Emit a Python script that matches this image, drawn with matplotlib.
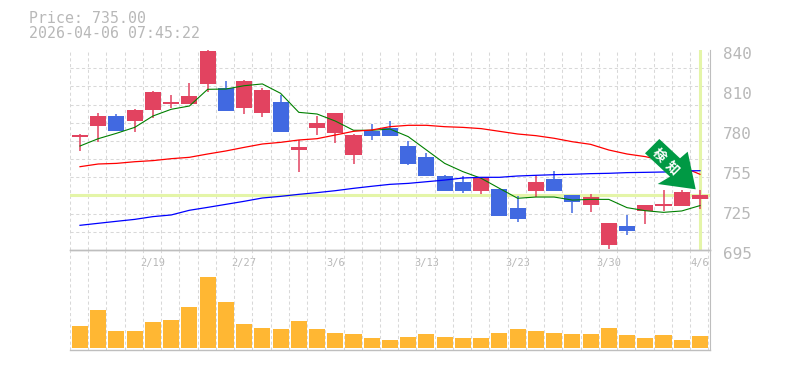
import numpy as np
import matplotlib
matplotlib.use('Agg')
import matplotlib.pyplot as plt
from matplotlib.patches import Polygon, Rectangle
from matplotlib.transforms import ScaledTranslation

# daily prices
open_ = [776.9, 784.9, 792.15, 788.5, 796.5, 800.85, 800.85, 815.4, 812.45, 797.95,
         794.3, 802.3, 767.5, 783.45, 779.8, 763.9, 781.3, 783.45, 770.4, 762.4,
         748.65, 744.3, 737.8, 739.2, 725.45, 737.8, 746.45, 735.0, 727.6, 698.6,
         712.4, 723.25, 726.9, 726.9, 732.0]
close = [778.35, 792.15, 781.3, 796.5, 809.55, 802.3, 806.65, 839.3, 795.8, 817.5,
         811.0, 780.55, 769.7, 787.1, 794.3, 778.35, 777.65, 777.65, 757.35, 748.65,
         737.8, 737.8, 747.9, 719.65, 717.45, 744.3, 737.8, 729.8, 733.4, 714.6,
         708.8, 727.6, 728.35, 737.05, 735.0]
high = [779.1, 794.3, 793.6, 797.2, 810.3, 807.4, 816.1, 840.0, 817.5, 818.25,
        812.45, 807.4, 774.75, 792.15, 794.3, 779.1, 786.35, 788.5, 774.0, 765.35,
        749.4, 748.65, 747.9, 739.2, 734.15, 749.4, 752.3, 735.0, 735.6, 714.6,
        720.4, 727.6, 738.5, 738.5, 738.5]
low = [766.8, 773.3, 781.3, 780.55, 790.7, 797.95, 800.85, 809.55, 795.8, 793.6,
       791.4, 780.55, 751.55, 778.35, 772.6, 757.35, 774.75, 777.65, 756.6, 748.65,
       737.8, 736.3, 735.6, 719.65, 715.3, 733.4, 737.8, 721.8, 722.55, 695.7,
       705.9, 713.85, 723.25, 726.9, 724.7]

ma_short = [770.4, 775.7, 779.6, 783.9, 792.15, 797.0, 799.4, 811.5, 811.7, 814.1,
            815.4, 808.6, 794.8, 793.6, 788.5, 781.8, 781.8, 782.7, 777.2, 767.5,
            757.8, 751.8, 747.0, 739.7, 732.5, 733.4, 733.4, 731.2, 731.7, 731.7,
            725.7, 723.5, 722.3, 723.3, 727.2]
ma_mid = [755.4, 757.35, 757.8, 759.0, 759.8, 761.2, 762.2, 764.6, 766.8, 769.4,
          771.85, 773.05, 774.75, 775.7, 778.35, 781.05, 782.0, 784.4, 785.4, 785.4,
          784.4, 783.9, 783.0, 781.05, 779.1, 777.9, 776.0, 773.5, 771.6, 767.5,
          764.6, 762.7, 759.8, 755.4, 749.9]
ma_long = [712.9, 714.35, 715.8, 717.2, 719.2, 720.4, 723.8, 725.9, 728.1, 730.3,
           732.7, 733.9, 735.35, 736.6, 738.0, 739.7, 741.2, 742.6, 743.3, 744.5,
           745.7, 747.2, 747.7, 747.7, 748.65, 749.15, 749.6, 749.9, 750.35, 750.6,
           751.1, 751.3, 751.55, 752.3, 752.5]

volume = [22, 38, 17, 17, 26, 28, 41, 71, 46, 24,
          20, 19, 27, 19, 15, 14, 10, 8, 11, 14,
          11, 10, 10, 15, 19, 17, 15, 14, 14, 20,
          13, 10, 13, 8, 12]

date_pos = [4, 9, 14, 19, 24, 29, 34]
date_labels = ['2/19', '2/27', '3/6', '3/13', '3/23', '3/30', '4/6']
price_ticks = [840, 811, 782, 753, 724, 695]
price_labels = ['840', '810', '780', '755', '725', '695']
last_price = 735.0

RED = '#E24360'
BLUE = '#4169E1'
ORANGE = '#FFB733'
GRID = '#D8D8D8'
EDGE = '#BEBEBE'
LABEL = '#B8B8B8'
MARK = '#E4F5A8'

W, H = 785, 370
plt.rcParams['font.family'] = ['DejaVu Sans Mono', 'Noto Sans CJK JP']

fig = plt.figure(figsize=(W / 100, H / 100), dpi=100)


def box(left, top, right, bottom):
    return [left / W, 1 - bottom / H, (right - left) / W, (bottom - top) / H]


ax = fig.add_axes(box(70, 50, 710, 250))
vol = fig.add_axes(box(70, 250, 710, 350))
x = np.arange(len(close))
xlim = (-0.548, 34.55)
edges = np.arange(36) - 0.548

for a in (ax, vol):
    a.set_xlim(*xlim)
    a.set_xticks(edges, minor=True)
    a.grid(True, which='minor', axis='x', color=GRID, lw=0.75, ls=(0, (3, 2.5)))
    a.set_axisbelow(True)
    a.spines['left'].set_visible(False)
    a.spines['top'].set_visible(False)
    a.spines['right'].set_color(EDGE)
    a.spines['bottom'].set_color(EDGE)
    a.spines['bottom'].set_linewidth(1.0)
    a.tick_params(which='both', length=0)

# price panel
ax.set_ylim(695, 840)
ax.set_yticks(np.linspace(695, 840, 12), minor=True)
ax.grid(True, which='minor', axis='y', color=GRID, lw=0.75, ls=(0, (3, 2.5)))
ax.yaxis.tick_right()
ax.set_yticks(price_ticks)
ax.set_yticklabels(price_labels, fontsize=11.5, color=LABEL)
ax.tick_params(axis='y', which='major', pad=9)
for lab in ax.get_yticklabels():
    lab.set_va('center')
    lab.set_transform(lab.get_transform() + ScaledTranslation(0, -3 / 72, fig.dpi_scale_trans))

ax.set_xticks(date_pos)
ax.set_xticklabels(date_labels, fontsize=7.5, color=LABEL)
ax.tick_params(axis='x', which='major', pad=6)

ax.axhline(last_price, color=MARK, lw=2.2, zorder=1)
ax.axvline(x[-1], color=MARK, lw=2.2, zorder=1)

for i in x:
    col = RED if close[i] >= open_[i] else BLUE
    ax.vlines(i, low[i], high[i], color=col, lw=1.1, zorder=3)
    bot = min(open_[i], close[i])
    ax.add_patch(Rectangle((i - 0.44, bot), 0.88, abs(close[i] - open_[i]),
                           fc=col, ec='none', zorder=3, antialiased=False))

ax.plot(x, ma_short, color='green', lw=0.8, zorder=4)
ax.plot(x, ma_mid, color='red', lw=0.9, zorder=4)
ax.plot(x, ma_long, color='blue', lw=0.9, zorder=4)

# detection arrow, pixel outline
arrow_px = [(659.3, 139), (645, 153.3), (670, 176.7), (657.7, 184),
            (695.7, 189.3), (687.7, 151.7), (680, 158.3)]
arrow = Polygon([(px / W, 1 - py / H) for px, py in arrow_px], closed=True,
                fc='#009944', ec='none', transform=fig.transFigure, zorder=6)
fig.add_artist(arrow)
fig.text(658.5 / W, 1 - 155 / H, '検', color='white', fontsize=9.5, rotation=-45,
         ha='center', va='center', fontweight='bold', zorder=7)
fig.text(672 / W, 1 - 168.5 / H, '知', color='white', fontsize=9.5, rotation=-45,
         ha='center', va='center', fontweight='bold', zorder=7)

# volume panel
vol.set_ylim(-2, 98)
vol.set_yticks([])
vol.set_xticks([])
vol.patch.set_visible(False)
vol.bar(x, volume, width=0.88, color=ORANGE, zorder=3, antialiased=False)
vol.spines['top'].set_visible(True)
vol.spines['top'].set_color(EDGE)
vol.spines['top'].set_linewidth(1.0)

fig.text(29 / W, 1 - 18.5 / H, 'Price: 735.00', fontsize=10.7, color=LABEL, ha='left', va='center')
fig.text(29 / W, 1 - 33.5 / H, '2026-04-06 07:45:22', fontsize=10.7, color=LABEL, ha='left', va='center')

fig.savefig('out.png', dpi=100)
